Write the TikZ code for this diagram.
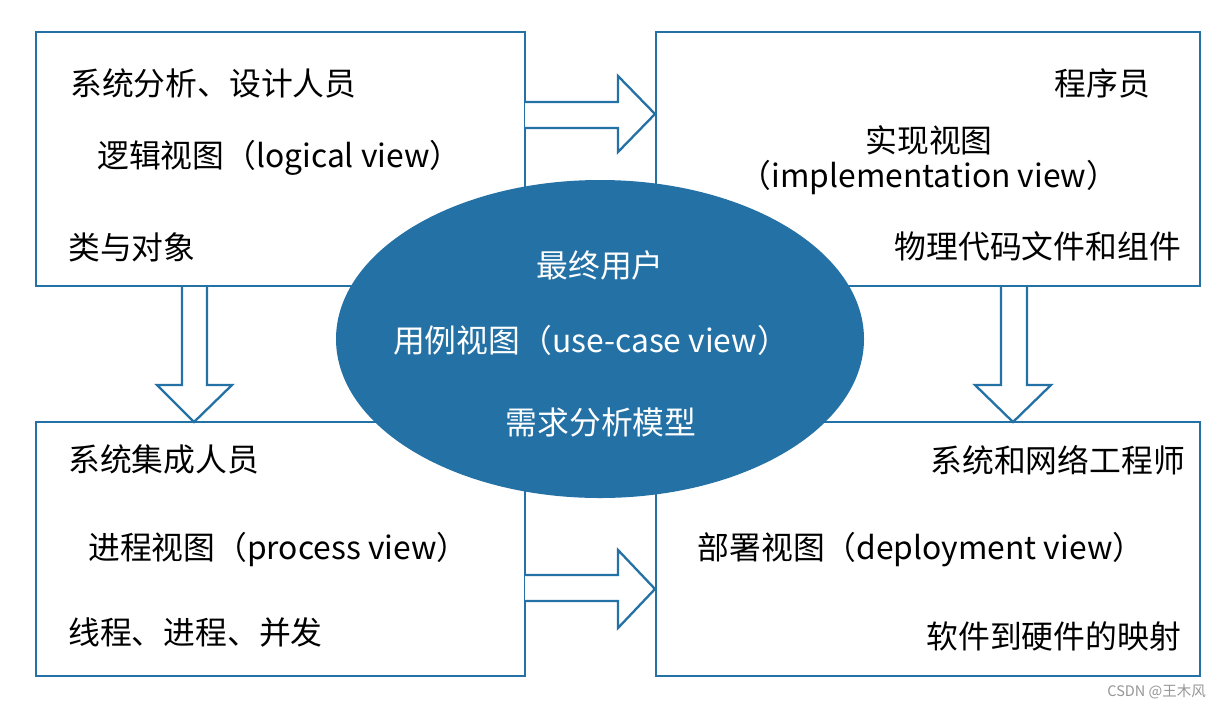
\documentclass[tikz,border=0pt]{standalone}
\usepackage{fontspec}
\setmainfont{Noto Sans CJK SC}
\definecolor{ublue}{RGB}{36,113,166}
\definecolor{wmgray}{RGB}{150,150,150}
\begin{document}
\begin{tikzpicture}[x=1pt,y=-1pt,
  boxstyle/.style={draw=ublue,line width=2.8pt},
  blockarrow/.style={draw=ublue,line width=2.3pt,fill=white,line join=miter},
  txt/.style={inner sep=0pt,font=\fontsize{31.8}{38}\selectfont,text=black},
  wtxt/.style={txt,text=white}]
\useasboundingbox[fill=white] (0,0) rectangle (1222,710);
% boxes
\draw[boxstyle] (36,32) rectangle (525,286);
\draw[boxstyle] (656,32) rectangle (1200,286);
\draw[boxstyle] (36,422) rectangle (525,676);
\draw[boxstyle] (656,422) rectangle (1200,676);
% block arrows
\draw[blockarrow] (525,102) -- (618,102) -- (618,76) -- (655,114) -- (618,152) -- (618,128) -- (525,128);
\draw[blockarrow] (525,575) -- (618,575) -- (618,550) -- (655,589) -- (618,628) -- (618,601) -- (525,601);
\draw[blockarrow] (182,287) -- (182,385) -- (157,385) -- (194,422) -- (232,385) -- (207,385) -- (207,287);
\draw[blockarrow] (1001,287) -- (1001,385) -- (975,385) -- (1013,422) -- (1051,385) -- (1027,385) -- (1027,287);
% ellipse
\fill[ublue] (600,339) ellipse [x radius=264, y radius=159];
% box 1 texts
\node[txt,anchor=west] (t11) at (70,83) {系统分析、设计人员};
\node[txt,anchor=west] (t12) at (97,158) {逻辑视图（logical view）};
\node[txt,anchor=west] (t13) at (68,247) {类与对象};
% box 2 texts
\node[txt,anchor=east] (t21) at (1150,83) {程序员};
\node[txt] (t22) at (929,140) {实现视图};
\node[txt] (t23) at (929,178) {（implementation view）};
\node[txt,anchor=east] (t24) at (1181,246) {物理代码文件和组件};
% ellipse texts
\node[wtxt] (e1) at (600,265) {最终用户};
\node[wtxt] (e2) at (591,340) {用例视图（use-case view）};
\node[wtxt] (e3) at (601,422) {需求分析模型};
% box 3 texts
\node[txt,anchor=west] (t31) at (68,459) {系统集成人员};
\node[txt,anchor=west] (t32) at (88,550) {进程视图（process view）};
\node[txt,anchor=west] (t33) at (68,632) {线程、进程、并发};
% box 4 texts
\node[txt,anchor=east] (t41) at (1185,460) {系统和网络工程师};
\node[txt] (t42) at (921,550) {部署视图（deployment view）};
\node[txt,anchor=east] (t43) at (1181,636) {软件到硬件的映射};
% watermark
\node[inner sep=0pt,anchor=east,text=wmgray,font=\fontsize{14.5}{16}\selectfont] (wm) at (1206,692) {CSDN @王木风};
\end{tikzpicture}
\end{document}
